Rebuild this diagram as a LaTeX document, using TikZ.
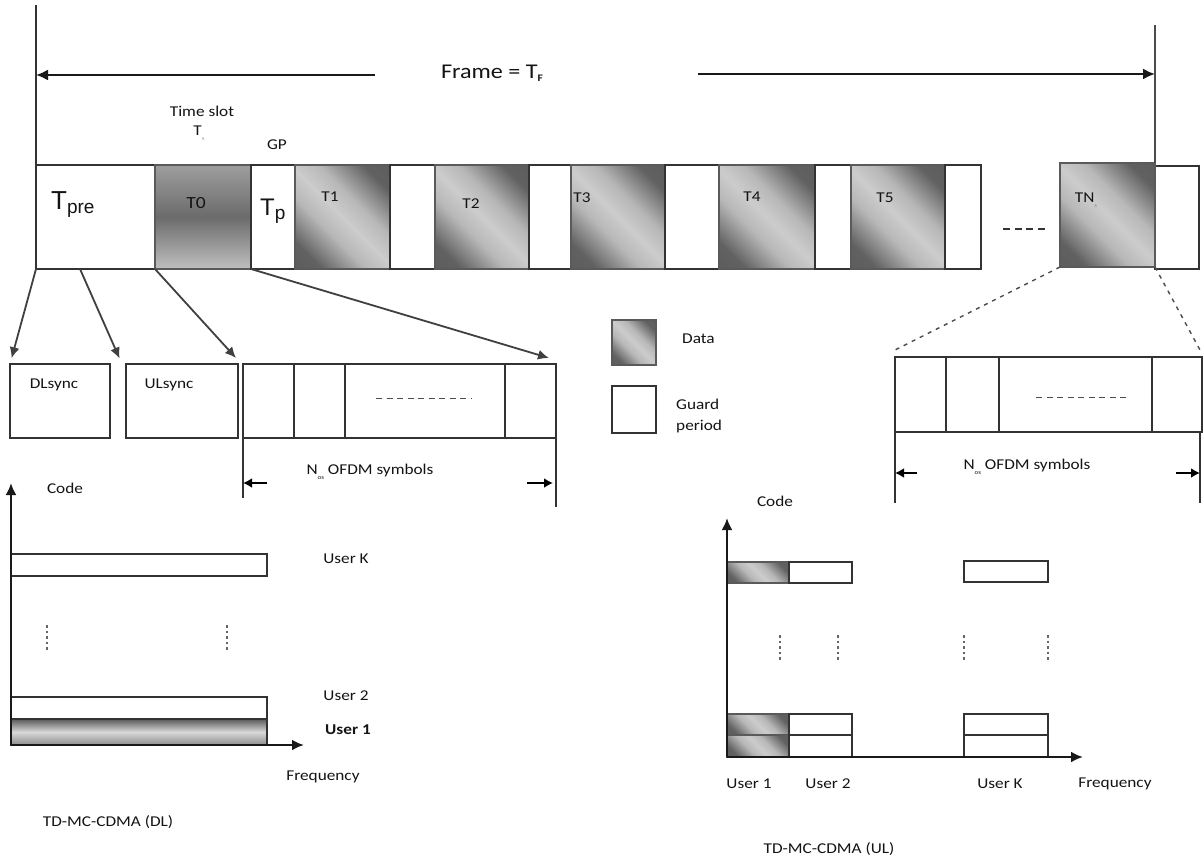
\documentclass[tikz,border=0pt]{standalone}
\usepackage{fontspec}
\setmainfont{Carlito}[FakeStretch=1.15]
\newfontfamily\arialf{Liberation Sans}
\usetikzlibrary{arrows.meta,calc}
\definecolor{edge}{HTML}{333333}
\definecolor{gedge}{HTML}{5A5A5A}
\definecolor{shdark}{HTML}{6C6C6C}
\definecolor{shlight}{HTML}{D2D2D2}
\definecolor{txt}{HTML}{141414}
\pgfdeclarehorizontalshading{diagband}{100bp}{%
  color(0bp)=(black!66); color(24bp)=(black!62); color(40bp)=(black!28);
  color(50bp)=(black!20); color(60bp)=(black!28); color(76bp)=(black!62); color(100bp)=(black!66)}
\newcommand{\sbs}[2][8]{\raisebox{-0.3em}{\fontsize{#1}{#1}\selectfont #2}}
\tikzset{
  lbl/.style={font=\fontsize{15}{17}\selectfont, inner sep=0pt, text=txt},
  lblw/.style={lbl, anchor=west},
  wbox/.style={draw=edge, line width=1.3pt, fill=white, inner sep=0pt, outer sep=0pt, anchor=north west},
  gbox/.style={draw=gedge, line width=1.3pt, inner sep=0pt, outer sep=0pt, anchor=north west,
     shading=diagband, shading angle=45},
  t0box/.style={draw=gedge, line width=1.3pt, inner sep=0pt, outer sep=0pt, anchor=north west,
     top color=black!38, bottom color=black!25, middle color=black!58},
  u1box/.style={draw=edge, line width=1.3pt, inner sep=0pt, outer sep=0pt, anchor=north west,
     top color=black!65, bottom color=black!45, middle color=black!15},
  frow/.style={minimum height=104},
  vline/.style={draw=edge, line width=1.8pt},
  bigarr/.style={draw=black!90, line width=2pt, -{Latex[length=12pt,width=11pt]}},
  zarr/.style={draw=black!75, line width=1.8pt, -{Latex[length=11pt,width=10pt]}},
  darr/.style={draw=black, line width=2pt, -{Latex[length=9pt,width=10pt]}},
  axis/.style={draw=black!90, line width=2.4pt, -{Latex[length=12pt,width=11pt]}},
  dotv/.style={draw=black!60, line width=1.8pt, dash pattern=on 2.5pt off 3pt},
  zoomd/.style={draw=black!70, line width=1.4pt, dash pattern=on 4pt off 5pt},
  dashtxt/.style={draw=black!70, line width=1pt, dash pattern=on 6pt off 4.5pt}
}
\begin{document}
\begin{tikzpicture}[x=1pt,y=-1pt]
\useasboundingbox[fill=white] (0,0) rectangle (1204,864);

% ---------------- frame row ----------------
\node[wbox,frow,minimum width=119] (tpre) at (36,165) {};
\node[t0box,frow,minimum width=96] (t0) at (155,165) {};
\node[wbox,frow,minimum width=44] (tp) at (251,165) {};
\node[gbox,frow,minimum width=95] (t1) at (295,165) {};
\node[wbox,frow,minimum width=45] (g1) at (390,165) {};
\node[gbox,frow,minimum width=94] (t2) at (435,165) {};
\node[wbox,frow,minimum width=42] (g2) at (529,165) {};
\node[gbox,frow,minimum width=94] (t3) at (571,165) {};
\node[wbox,frow,minimum width=54] (g3) at (665,165) {};
\node[gbox,frow,minimum width=96] (t4) at (719,165) {};
\node[wbox,frow,minimum width=36] (g4) at (815,165) {};
\node[gbox,frow,minimum width=94] (t5) at (851,165) {};
\node[wbox,frow,minimum width=36] (g5) at (945,165) {};
\node[wbox,minimum width=44,minimum height=103] (gn) at (1155,166) {};
\node[gbox,frow,minimum width=95] (tn) at (1060,163) {};
\draw[line width=2pt, draw=black!80, dash pattern=on 7pt off 4.5pt] (1003,229) -- (1048,229);

% labels in frame row
\node[inner sep=0pt, anchor=west, text=txt] (ltpre) at (51,205)
  {\arialf\fontsize{26}{26}\selectfont T\raisebox{-4pt}{\fontsize{19}{19}\selectfont pre}};
\node[lbl] (lt0) at (196,203) {\fontsize{17}{18}\selectfont T0};
\node[inner sep=0pt, anchor=west, text=txt] (ltp) at (260,211)
  {\arialf\fontsize{24}{24}\selectfont T\raisebox{-4pt}{\fontsize{19}{19}\selectfont p}};
\node[lbl] (lt1) at (330,197) {T1};
\node[lbl] (lt2) at (471,204) {T2};
\node[lbl] (lt3) at (582,198) {T3};
\node[lbl] (lt4) at (752,197) {T4};
\node[lbl] (lt5) at (885,198) {T5};
\node[lbl] (ltn) at (1086,200) {TN\sbs[6]{\textcolor{black!45}{s}}};

% frame top
\coordinate (vl1) at (36,5);
\coordinate (vr1) at (1155,25);
\draw[vline] (vl1) -- (tpre.north west);
\draw[vline, draw=black!70] (vr1) -- (tn.north east);
\node[lbl] (frame) at (492,73) {\fontsize{21}{23}\selectfont Frame = T\raisebox{-3pt}{\fontsize{10}{10}\selectfont\bfseries F}};
\coordinate (fla) at (375,75);
\coordinate (flb) at (36,75);
\coordinate (fra) at (698,74);
\coordinate (frb) at (1155,74);
\draw[bigarr] (fla) -- (flb);
\draw[bigarr] (fra) -- (frb);
\node[lbl] (tslot) at (202,111) {Time slot};
\node[lbl] (ts) at (199,133) {T\sbs[6]{\textcolor{black!40}{s}}};
\node[lbl] (gp) at (277,145) {GP};

% ---------------- legend ----------------
\node[gbox,minimum width=44,minimum height=45] (legd) at (612,320) {};
\node[lblw] (legdt) at (682,339) {Data};
\node[wbox,minimum width=44,minimum height=47] (legg) at (612,386) {};
\node[lblw,align=left] (leggt) at (676,416) {Guard\\[4pt]period};

% ---------------- left zoom boxes ----------------
\node[wbox,minimum width=100,minimum height=74] (dlsync) at (10,364) {};
\node[lbl] (dlt) at (54,385) {DLsync};
\node[wbox,minimum width=112,minimum height=74] (ulsync) at (126,364) {};
\node[lbl] (ult) at (169,385) {ULsync};
\node[wbox,minimum width=51,minimum height=74] (oa1) at (243,364) {};
\node[wbox,minimum width=51,minimum height=74] (oa2) at (294,364) {};
\node[wbox,minimum width=160,minimum height=74] (oa3) at (345,364) {};
\node[wbox,minimum width=51,minimum height=74] (oa4) at (505,364) {};
\draw[dashtxt] (376,398) -- (472,398);

\draw[zarr, shorten >=6pt] (tpre.south west) -- (dlsync.north west);
\draw[zarr, shorten >=6pt] ($(tpre.south west)!0.37!(tpre.south east)$) -- ($(ulsync.north west)+(-4,0)$);
\draw[zarr] (t0.south west) -- ($(ulsync.north east)+(-2,-6)$);
\draw[zarr] (tp.south west) -- ($(oa4.north east)+(-7,-6)$);

% dimension left
\coordinate (dl1) at ($(oa1.south west)+(0,60)$);
\coordinate (dl2) at ($(oa4.south east)+(0,69)$);
\draw[vline, line width=1.5pt] (oa1.south west) -- (dl1);
\draw[vline, line width=1.5pt] (oa4.south east) -- (dl2);
\coordinate (dla) at ($(oa1.south west)+(0,45)$);
\coordinate (dlb) at ($(oa4.south east)+(-3,45)$);
\draw[darr] ($(dla)+(24,0)$) -- (dla);
\draw[darr] ($(dlb)+(-26,0)$) -- (dlb);
\node[lbl] (nos1) at (370,472) {N\sbs[6]{os} OFDM symbols};

% ---------------- right zoom boxes ----------------
\node[wbox,minimum width=51,minimum height=75] (ob1) at (895,357) {};
\node[wbox,minimum width=53,minimum height=75] (ob2) at (946,357) {};
\node[wbox,minimum width=153,minimum height=75] (ob3) at (999,357) {};
\node[wbox,minimum width=50,minimum height=75] (ob4) at (1152,357) {};
\draw[dashtxt] (1036,397) -- (1127,397);
\draw[zoomd] (tn.south west) -- ($(ob1.north west)+(0,-7)$);
\draw[zoomd] (tn.south east) -- ($(ob4.north east)+(-2,-7)$);

\coordinate (dr1) at ($(ob1.south west)+(0,71)$);
\coordinate (dr2) at ($(ob4.south east)+(-2,71)$);
\draw[vline, line width=1.5pt] (ob1.south west) -- (dr1);
\draw[vline, line width=1.5pt] ($(ob4.south east)+(-2,0)$) -- (dr2);
\coordinate (dra) at ($(ob1.south west)+(0,41)$);
\coordinate (drb) at ($(ob4.south east)+(-2,41)$);
\draw[darr] ($(dra)+(22,0)$) -- (dra);
\draw[darr] ($(drb)+(-24,0)$) -- (drb);
\node[lbl] (nos2) at (1027,467) {N\sbs[6]{os} OFDM symbols};

% ---------------- DL chart ----------------
\coordinate (dlo) at (11,745);
\coordinate (dly) at (11,483);
\coordinate (dlx) at (304,745);
\node[wbox,minimum width=256,minimum height=22] (dk) at (11,554) {};
\node[wbox,minimum width=256,minimum height=22] (d2) at (11,697) {};
\node[u1box,minimum width=256,minimum height=26] (d1) at (11,719) {};
\draw[axis] (dlo) -- (dly);
\draw[axis] (dlo) -- (dlx);
\draw[dotv] (47,625) -- (47,651);
\draw[dotv] (227,625) -- (227,651);
\node[lbl] (dcode) at (65,488) {Code};
\node[lbl] (dukt) at (346,559) {User K};
\node[lbl] (du2t) at (346,696) {User 2};
\node[lbl] (du1t) at (348,730) {\bfseries User 1};
\node[lbl] (dfr) at (323,777) {Frequency};
\node[lbl] (dlcap) at (108,822) {TD-MC-CDMA (DL)};

% ---------------- UL chart ----------------
\coordinate (ulo) at (727,757);
\coordinate (uly) at (727,518);
\coordinate (ulx) at (1083,757);
\node[gbox,minimum width=62,minimum height=21] (ua3) at (727,562) {};
\node[wbox,minimum width=63,minimum height=21] (ub3) at (789,562) {};
\node[wbox,minimum width=84,minimum height=21] (uk3) at (964,561) {};
\node[gbox,minimum width=62,minimum height=21] (ua2) at (727,714) {};
\node[wbox,minimum width=63,minimum height=21] (ub2) at (789,714) {};
\node[wbox,minimum width=84,minimum height=21] (uk2) at (964,714) {};
\node[gbox,minimum width=62,minimum height=22] (ua1) at (727,735) {};
\node[wbox,minimum width=63,minimum height=22] (ub1) at (789,735) {};
\node[wbox,minimum width=84,minimum height=22] (uk1) at (964,735) {};
\draw[axis] (ulo) -- (uly);
\draw[axis] (ulo) -- (ulx);
\draw[dotv] (780,635) -- (780,661);
\draw[dotv] (838,635) -- (838,661);
\draw[dotv] (964,635) -- (964,661);
\draw[dotv] (1048,635) -- (1048,661);
\node[lbl] (ucode) at (775,501) {Code};
\node[lbl] (uu1t) at (749,784) {User 1};
\node[lbl] (uu2t) at (828,784) {User 2};
\node[lbl] (uukt) at (1000,784) {User K};
\node[lbl] (ufr) at (1115,784) {Frequency};
\node[lbl] (ulcap) at (829,849) {TD-MC-CDMA (UL)};
\end{tikzpicture}
\end{document}
